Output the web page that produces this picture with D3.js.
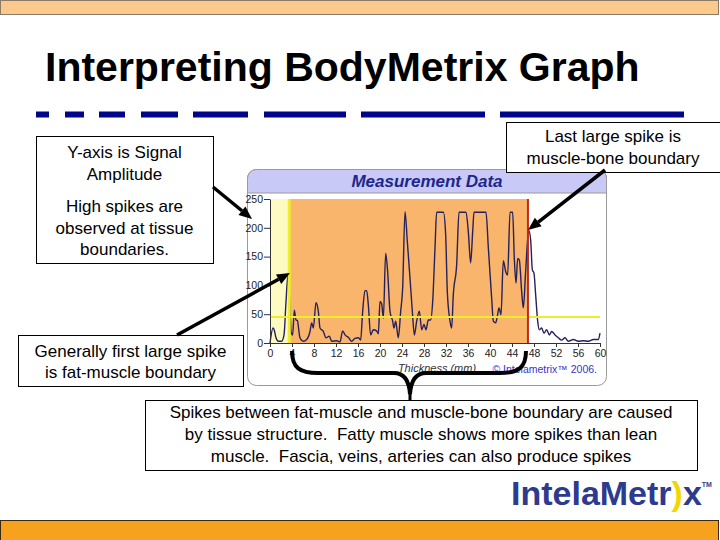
<!DOCTYPE html>
<html><head><meta charset="utf-8">
<script src="https://cdn.jsdelivr.net/npm/d3@7"></script>
<style>
html,body{margin:0;padding:0;background:#fff;}
svg{display:block;font-family:"Liberation Sans",Arial,sans-serif;}
text{white-space:pre;}
</style></head>
<body>
<svg id="c" width="720" height="540"></svg>
<script>
// ---- data ----
const thickness = [0,0.55,0.73,1.09,1.52,2.12,2.55,2.9,3.3,3.6,3.82,4.12,4.42,4.73,4.97,5.45,6.06,6.67,7.27,7.58,
7.88,8.36,8.79,9.09,9.70,10.18,10.79,11.21,12.12,12.73,13.21,13.64,14.24,14.85,15.45,16.06,16.48,16.85,17.27,17.58,
17.88,18.30,18.79,19.39,19.70,20.00,20.30,20.61,21.03,21.39,21.82,22.30,22.55,22.85,23.33,23.76,24.12,24.55,24.97,25.45,
25.88,26.24,26.67,27.15,27.58,28.00,28.36,28.79,29.21,29.58,30.00,30.30,31.52,31.94,32.24,32.73,33.03,33.33,33.94,34.36,
35.64,36.06,36.48,36.85,37.09,39.27,39.70,40.30,40.61,41.03,41.33,41.64,42.00,42.42,42.85,43.21,43.64,44.12,44.42,44.73,
45.03,45.33,45.76,46.06,46.48,47.03,47.39,47.70,48.00,48.30,48.67,48.97,49.39,49.82,50.30,50.79,51.21,51.82,52.42,53.03,
53.64,54.24,55.15,56.06,56.97,57.88,58.79,59.70,60.00];
const amplitude = [0,26,24,9,3,3,14,70,121,70,20,14,57,40,39,9,3,6,20,35,
26,70,55,26,20,9,12,3,4,2,21,14,10,3,8,9,5,55,91,91,
66,14,23,21,16,72,68,43,156,124,55,38,26,38,9,55,95,228,176,113,
55,14,38,55,23,32,23,40,40,72,165,227,227,188,89,38,26,84,136,227,
227,193,139,193,227,227,165,78,38,35,46,61,49,143,124,118,227,227,147,104,
147,144,89,61,124,196,179,127,121,84,38,23,26,17,23,14,20,14,9,5,
9,3,6,3,4,3,6,6,17];
const xTicks = [0,4,8,12,16,20,24,28,32,36,40,44,48,52,56,60];
const yTicks = [0,50,100,150,200,250];
const fatMuscle = 3.5;     // mm
const muscleBone = 46.9;   // mm
const threshold = 45;      // amplitude
const titleText = "Interpreting BodyMetrix Graph";
const box1Lines = ["Y-axis is Signal","Amplitude","High spikes are","observed at tissue","boundaries."];
const box2Lines = ["Generally first large spike","is fat-muscle boundary"];
const box3Lines = ["Last large spike is","muscle-bone boundary"];
const box4Lines = ["Spikes between fat-muscle and muscle-bone boundary are caused","by tissue structure.  Fatty muscle shows more spikes than lean","muscle.  Fascia, veins, arteries can also produce spikes"];

const svg = d3.select("#c");

// top & bottom bars
svg.append("rect").attr("x",0.5).attr("y",0.5).attr("width",718).attr("height",14)
  .attr("fill","#fbc98b").attr("stroke","#8c7b66");
svg.append("rect").attr("x",0.5).attr("y",520.5).attr("width",718).attr("height",20)
  .attr("fill","#f7a21f").attr("stroke","#3a2a10");

// title
svg.append("text").attr("x",45).attr("y",81).attr("font-size",41).attr("font-weight","bold")
  .attr("fill","#000").text(titleText);

// dashes under title
const dashes = [[36,49],[65,84],[99,125],[141,178],[193,248],[264,346],[361,485],[500,684]];
svg.selectAll("rect.dash").data(dashes).join("rect").attr("class","dash")
  .attr("x",d=>d[0]).attr("y",111.5).attr("width",d=>d[1]-d[0]).attr("height",6).attr("fill","#00058a");

// chart panel
svg.append("rect").attr("x",247.5).attr("y",169.5).attr("width",359).attr("height",216).attr("rx",9)
  .attr("fill","#fff").attr("stroke","#9a9a9a");
svg.append("path").attr("d","M247.5,193 V178.5 a9,9 0 0 1 9,-9 H597.5 a9,9 0 0 1 9,9 V193 Z")
  .attr("fill","#c8c9f6").attr("stroke","#9a9a9a");
svg.append("text").attr("x",427).attr("y",187).attr("text-anchor","middle").attr("font-size",17)
  .attr("font-weight","bold").attr("font-style","italic").attr("fill","#1c278c").text("Measurement Data");

const x = d3.scaleLinear().domain([0,60]).range([270,600]);
const y = d3.scaleLinear().domain([0,250]).range([343,199]);

// regions
svg.append("rect").attr("x",x(0)).attr("y",y(250)).attr("width",x(fatMuscle)-x(0)).attr("height",y(0)-y(250)).attr("fill","#fdfbc2");
svg.append("rect").attr("x",x(fatMuscle)).attr("y",y(250)).attr("width",x(muscleBone)-x(fatMuscle)).attr("height",y(0)-y(250)).attr("fill","#f9b56b");

// trace
svg.append("path").datum(thickness.map((t,i)=>[t,amplitude[i]]))
  .attr("d",d3.line().x(d=>x(d[0])).y(d=>y(d[1])).curve(d3.curveMonotoneX))
  .attr("fill","none").attr("stroke","#25215f").attr("stroke-width",1.4);

// threshold & boundary lines
svg.append("line").attr("x1",x(0)).attr("x2",x(60)).attr("y1",y(threshold)).attr("y2",y(threshold))
  .attr("stroke","#efeb2e").attr("stroke-width",2);
svg.append("line").attr("x1",x(fatMuscle)).attr("x2",x(fatMuscle)).attr("y1",y(250)).attr("y2",y(0))
  .attr("stroke","#efeb2e").attr("stroke-width",3);
svg.append("line").attr("x1",x(muscleBone)).attr("x2",x(muscleBone)).attr("y1",y(250)).attr("y2",y(0))
  .attr("stroke","#c4281c").attr("stroke-width",2);

// axes
const ya = svg.append("g").attr("transform","translate(270,0)")
  .call(d3.axisLeft(y).tickValues(yTicks).tickSize(6).tickPadding(1).tickSizeOuter(0));
const xa = svg.append("g").attr("transform","translate(0,343)")
  .call(d3.axisBottom(x).tickValues(xTicks).tickSize(4).tickPadding(3).tickSizeOuter(0));
[ya,xa].forEach(g=>{
  g.selectAll("text").attr("font-size",10.5).attr("fill","#222").attr("font-family","Liberation Sans, Arial, sans-serif");
  g.selectAll("line,path").attr("stroke","#333");
});

svg.append("text").attr("x",437).attr("y",372).attr("text-anchor","middle").attr("font-size",11)
  .attr("font-style","italic").attr("fill","#333").text("Thickness (mm)");
svg.append("text").attr("x",597).attr("y",373).attr("text-anchor","end").attr("font-size",10.5)
  .attr("fill","#3434c8").text("© Intelametrix™ 2006.");

// callout boxes
function box(x0,y0,w,h,lines,cx,firstY,lh,extraGap){
  svg.append("rect").attr("x",x0+0.5).attr("y",y0+0.5).attr("width",w).attr("height",h)
    .attr("fill","#fff").attr("stroke","#000").attr("stroke-width",1);
  const t = svg.append("text").attr("text-anchor","middle").attr("font-size",17).attr("fill","#000")
    .attr("xml:space","preserve");
  lines.forEach((l,i)=>{
    let yy = firstY + i*lh + (extraGap && i>=extraGap[0] ? extraGap[1] : 0);
    t.append("tspan").attr("x",cx).attr("y",yy).text(l);
  });
}
box(36,136,177,127,box1Lines,124.5,158,21.5,[2,11]);
box(18,335,225,51,box2Lines,130.5,357,21);
box(506,122,216,50,box3Lines,613,142,22);
box(145,400,552,70,box4Lines,421,418,22);

// arrows
function arrow(x1,y1,x2,y2){
  const a = Math.atan2(y2-y1,x2-x1), L=13, W=5.5;
  const bx = x2-L*Math.cos(a), by = y2-L*Math.sin(a);
  svg.append("line").attr("x1",x1).attr("y1",y1).attr("x2",bx).attr("y2",by)
    .attr("stroke","#000").attr("stroke-width",3.5);
  svg.append("path").attr("d",`M${x2},${y2} L${bx+W*Math.sin(a)},${by-W*Math.cos(a)} L${bx-W*Math.sin(a)},${by+W*Math.cos(a)} Z`)
    .attr("fill","#000");
}
arrow(213,187,252,219);
arrow(177,335,290,273);
arrow(605,170,528,230);

// brace
svg.append("path")
  .attr("d","M292,351 C292,368 300,373 318,373 L394,373 C404,373 409,380 410,394 C411,380 416,373 426,373 L500,373 C518,373 526,368 526,351")
  .attr("fill","none").attr("stroke","#000").attr("stroke-width",4);
svg.append("line").attr("x1",410).attr("x2",410).attr("y1",390).attr("y2",400).attr("stroke","#000").attr("stroke-width",3);

// logo
const logo = svg.append("text").attr("x",511).attr("y",505).attr("font-size",34).attr("font-weight","bold").attr("fill","#2d3a8e");
logo.append("tspan").text("IntelaMetr");
logo.append("tspan").attr("fill","#f2d600").text(")");
logo.append("tspan").text("x");
logo.append("tspan").attr("font-size",7).attr("dy",-18).text("TM");
</script>
</body></html>
